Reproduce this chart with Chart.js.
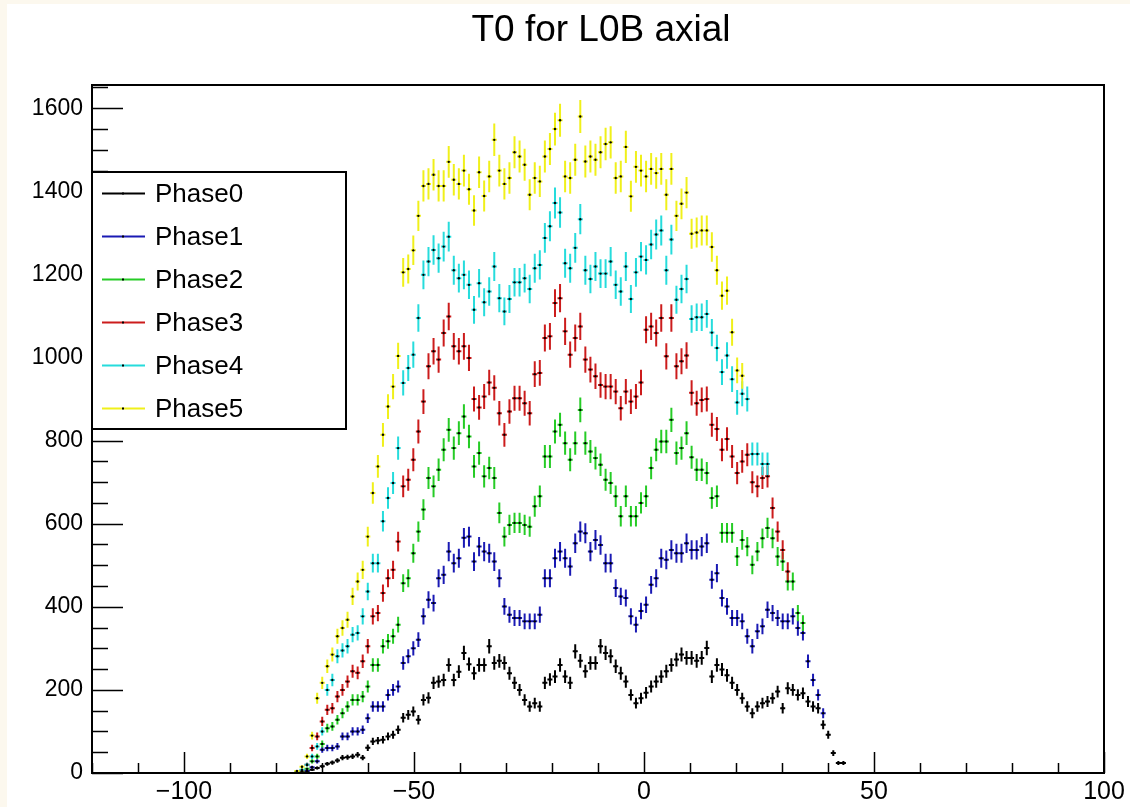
<!DOCTYPE html>
<html>
<head>
<meta charset="utf-8">
<title>T0 for L0B axial</title>
<script src="https://cdn.jsdelivr.net/npm/chart.js@4.4.1/dist/chart.umd.min.js"></script>
<style>
  html, body { margin: 0; padding: 0; background: #fcf8ee; }
  #wrap { position: absolute; left: 0; top: 0; width: 1130px; height: 807px; }
</style>
</head>
<body>
<div id="wrap"><canvas id="t0Chart" width="1130" height="807"></canvas></div>
<script>
// Histogram binning: 200 bins over [-120, 100], values start at bin 40
const X_MIN = -120;
const X_MAX = 100;
const BIN_W = 1.1;
const FIRST_BIN = 40;

const seriesLabels = ['Phase0', 'Phase1', 'Phase2', 'Phase3', 'Phase4', 'Phase5'];
const seriesColors = ['#000000', '#1a1ab4', '#26cc26', '#cc1c1c', '#26dcdc', '#f0f01a'];

const xTickValues = [-100, -50, 0, 50, 100];
const yTickValues = [0, 200, 400, 600, 800, 1000, 1200, 1400, 1600];
const Y_MAX = 1656;

// bin contents, one entry per bin from FIRST_BIN on
const phase0 = [
  1, 2, 4, 8, 12, 16, 22, 25, 30, 37,
  38, 40, 44, 37, 61, 76, 78, 80, 88, 92,
  104, 133, 140, 148, 128, 176, 181, 217, 220, 224,
  260, 224, 244, 289, 262, 240, 260, 260, 305, 265,
  270, 265, 240, 217, 200, 176, 160, 168, 160, 217,
  225, 232, 260, 232, 217, 293, 270, 245, 265, 265,
  305, 289, 281, 257, 240, 220, 188, 168, 180, 193,
  208, 220, 232, 245, 260, 273, 285, 277, 277, 270,
  277, 301, 232, 260, 249, 235, 217, 200, 180, 160,
  144, 160, 168, 172, 180, 196, 156, 204, 200, 188,
  192, 172, 160, 156, 116, 92, 48, 24, 24
];
const phase1 = [
  1, 3, 6, 14, 28, 56, 60, 60, 64, 88,
  88, 100, 100, 104, 132, 160, 160, 160, 188, 200,
  208, 265, 281, 300, 321, 377, 417, 409, 469, 477,
  533, 505, 517, 566, 569, 509, 545, 533, 529, 509,
  469, 401, 381, 373, 373, 365, 365, 365, 381, 469,
  469, 517, 533, 517, 497, 553, 581, 577, 533, 561,
  549, 505, 505, 445, 425, 421, 377, 357, 390, 405,
  453, 469, 517, 513, 537, 529, 529, 553, 537, 537,
  545, 553, 465, 481, 421, 401, 373, 373, 365, 329,
  305, 341, 353, 393, 385, 373, 365, 365, 377, 349,
  337, 269, 224, 188, 144
];
const phase2 = [
  2, 4, 10, 28, 40, 70, 108, 112, 128, 144,
  160, 176, 176, 184, 208, 260, 260, 305, 317, 329,
  357, 457, 469, 529, 581, 634, 710, 690, 730, 778,
  826, 782, 818, 858, 810, 738, 770, 714, 734, 710,
  626, 569, 597, 602, 602, 597, 593, 642, 666, 762,
  762, 822, 838, 794, 754, 794, 874, 794, 774, 758,
  742, 706, 698, 666, 618, 666, 618, 618, 650, 666,
  734, 778, 798, 798, 850, 770, 782, 818, 760, 730,
  730, 722, 662, 666, 578, 578, 578, 521, 561, 545,
  501, 533, 565, 590, 565, 521, 509, 461, 461, 385,
  361
];
const phase3 = [
  2, 6, 20, 60, 88, 124, 152, 156, 184, 200,
  220, 245, 241, 269, 305, 377, 385, 433, 469, 489,
  557, 690, 706, 754, 822, 894, 979, 1015, 995, 1059,
  1099, 1027, 1015, 1027, 999, 900, 880, 906, 940, 927,
  866, 814, 870, 902, 902, 890, 866, 960, 963, 1047,
  1051, 1131, 1143, 1063, 1007, 1047, 1075, 995, 971, 955,
  934, 930, 930, 918, 878, 918, 894, 906, 940, 1067,
  1075, 1059, 1095, 1003, 1095, 979, 991, 1005, 915, 890,
  898, 900, 838, 828, 778, 804, 762, 722, 750, 766,
  700, 690, 710, 714, 638, 581, 537, 485
];
const phase4 = [
  3, 8, 20, 40, 64, 100, 200, 224, 281, 295,
  305, 333, 337, 377, 437, 505, 505, 606, 662, 698,
  782, 939, 975, 1007, 1095, 1199, 1231, 1259, 1239, 1267,
  1291, 1210, 1191, 1199, 1175, 1115, 1179, 1133, 1159, 1219,
  1143, 1111, 1141, 1181, 1181, 1191, 1165, 1215, 1223, 1288,
  1316, 1372, 1349, 1227, 1215, 1264, 1333, 1210, 1189, 1219,
  1202, 1202, 1231, 1175, 1159, 1219, 1141, 1205, 1243, 1235,
  1272, 1296, 1306, 1210, 1284, 1139, 1165, 1189, 1093, 1097,
  1097, 1105, 1060, 1023, 965, 1005, 948, 892, 913, 900,
  768, 768, 744, 744
];
const phase5 = [
  5, 15, 40, 90, 180, 217, 257, 285, 329, 349,
  369, 425, 461, 489, 569, 674, 738, 814, 882, 930,
  1004, 1205, 1213, 1258, 1341, 1413, 1418, 1440, 1413, 1413,
  1471, 1428, 1418, 1450, 1405, 1354, 1446, 1389, 1436, 1524,
  1450, 1418, 1432, 1494, 1484, 1464, 1392, 1432, 1424, 1484,
  1502, 1550, 1571, 1436, 1432, 1476, 1580, 1472, 1484, 1476,
  1494, 1514, 1518, 1432, 1436, 1507, 1388, 1459, 1450, 1436,
  1454, 1444, 1454, 1392, 1454, 1341, 1370, 1397, 1298, 1301,
  1306, 1306, 1266, 1210, 1149, 1161, 1061, 969, 956
];
const seriesValues = [phase0, phase1, phase2, phase3, phase4, phase5];

const FONT = '"Liberation Sans", Arial, Helvetica, sans-serif';

function binCenter(i) {
  return X_MIN + (FIRST_BIN + i + 0.5) * BIN_W;
}

// white canvas with a thin cream margin on the left and top
const canvasBg = {
  id: 'canvasBg',
  beforeDraw(chart) {
    const { ctx, width, height } = chart;
    ctx.save();
    ctx.fillStyle = '#fcf8ee';
    ctx.fillRect(0, 0, width, height);
    ctx.fillStyle = '#ffffff';
    ctx.fillRect(7, 4, width - 7, height - 4);
    ctx.restore();
  }
};

// vertical sqrt(N) errors and horizontal bin-width bars, like TH1 "E" drawing
const errorBars = {
  id: 'errorBars',
  beforeDatasetsDraw(chart) {
    const { ctx, chartArea, scales: { x, y } } = chart;
    ctx.save();
    ctx.beginPath();
    ctx.rect(chartArea.left, chartArea.top, chartArea.width, chartArea.height);
    ctx.clip();
    ctx.lineWidth = 2;
    chart.data.datasets.forEach(ds => {
      ctx.strokeStyle = ds.borderColor;
      ctx.beginPath();
      ds.data.forEach(p => {
        const err = Math.sqrt(p.y);
        const px = x.getPixelForValue(p.x);
        const py = y.getPixelForValue(p.y);
        ctx.moveTo(px, y.getPixelForValue(p.y + err));
        ctx.lineTo(px, y.getPixelForValue(p.y - err));
        ctx.moveTo(x.getPixelForValue(p.x - BIN_W / 2), py);
        ctx.lineTo(x.getPixelForValue(p.x + BIN_W / 2), py);
      });
      ctx.stroke();
    });
    ctx.restore();
  }
};

// frame box with inward ticks
const frameTicks = {
  id: 'frameTicks',
  afterDatasetsDraw(chart) {
    const { ctx, chartArea: a, scales: { x, y } } = chart;
    ctx.save();
    ctx.strokeStyle = '#000';
    ctx.lineWidth = 1.5;
    ctx.beginPath();
    for (let v = X_MIN; v <= X_MAX; v += 10) {
      const px = Math.round(x.getPixelForValue(v)) + 0.5;
      const len = xTickValues.includes(v) ? 21 : 10;
      ctx.moveTo(px, a.bottom);
      ctx.lineTo(px, a.bottom - len);
    }
    for (let v = 0; v <= Y_MAX; v += 50) {
      const py = Math.round(y.getPixelForValue(v)) + 0.5;
      const len = v % 200 === 0 ? 31 : 16;
      ctx.moveTo(a.left, py);
      ctx.lineTo(a.left + len, py);
    }
    ctx.stroke();
    ctx.lineWidth = 2;
    ctx.strokeRect(a.left, a.top, a.right - a.left, a.bottom - a.top);
    ctx.restore();
  }
};

// boxed legend in the upper left corner of the frame
const boxLegend = {
  id: 'boxLegend',
  afterDraw(chart) {
    const { ctx } = chart;
    const bx = 92, by = 172, bw = 254, bh = 257;
    ctx.save();
    ctx.fillStyle = '#fff';
    ctx.fillRect(bx, by, bw, bh);
    ctx.strokeStyle = '#000';
    ctx.lineWidth = 2;
    ctx.strokeRect(bx, by, bw, bh);
    ctx.font = '26px ' + FONT;
    ctx.textBaseline = 'middle';
    chart.data.datasets.forEach((ds, i) => {
      const cy = 193.5 + i * 43;
      ctx.strokeStyle = ds.borderColor;
      ctx.lineWidth = 2;
      ctx.beginPath();
      ctx.moveTo(102, cy);
      ctx.lineTo(145, cy);
      ctx.stroke();
      ctx.fillStyle = '#000';
      ctx.fillRect(122, cy - 1, 2, 2);
      ctx.fillText(ds.label, 155, cy + 1);
    });
    ctx.restore();
  }
};

const plotTitle = {
  id: 'plotTitle',
  afterDraw(chart) {
    const { ctx } = chart;
    ctx.save();
    ctx.fillStyle = '#000';
    ctx.font = '37px ' + FONT;
    ctx.textAlign = 'center';
    ctx.textBaseline = 'middle';
    ctx.fillText('T0 for L0B axial', 601, 31);
    ctx.restore();
  }
};

new Chart(document.getElementById('t0Chart'), {
  type: 'scatter',
  data: {
    datasets: seriesLabels.map((label, s) => ({
      label: label,
      data: seriesValues[s].map((v, i) => ({ x: binCenter(i), y: v })),
      borderColor: seriesColors[s],
      backgroundColor: '#000',
      pointRadius: 1.2,
      pointBorderWidth: 0,
      pointHoverRadius: 1.2,
      showLine: false
    }))
  },
  options: {
    responsive: false,
    animation: false,
    events: [],
    layout: { padding: { top: 85, right: 26, left: 0, bottom: 0 } },
    plugins: {
      legend: { display: false },
      tooltip: { enabled: false },
      title: { display: false }
    },
    scales: {
      x: {
        type: 'linear',
        min: X_MIN,
        max: X_MAX,
        grid: { display: false, drawTicks: false },
        border: { display: false },
        afterBuildTicks: scale => { scale.ticks = xTickValues.map(v => ({ value: v })); },
        afterFit: scale => { scale.height = 34; },
        ticks: {
          padding: 4,
          color: '#000',
          maxRotation: 0,
          font: { family: FONT, size: 25 },
          callback: v => String(v).replace('-', '\u2212')
        }
      },
      y: {
        type: 'linear',
        min: 0,
        max: Y_MAX,
        grid: { display: false, drawTicks: false },
        border: { display: false },
        afterBuildTicks: scale => { scale.ticks = yTickValues.map(v => ({ value: v })); },
        afterFit: scale => { scale.width = 92; },
        ticks: {
          padding: 9,
          color: '#000',
          font: { family: FONT, size: 23 },
          callback: v => String(v)
        }
      }
    }
  },
  plugins: [canvasBg, errorBars, frameTicks, boxLegend, plotTitle]
});
</script>
</body>
</html>
